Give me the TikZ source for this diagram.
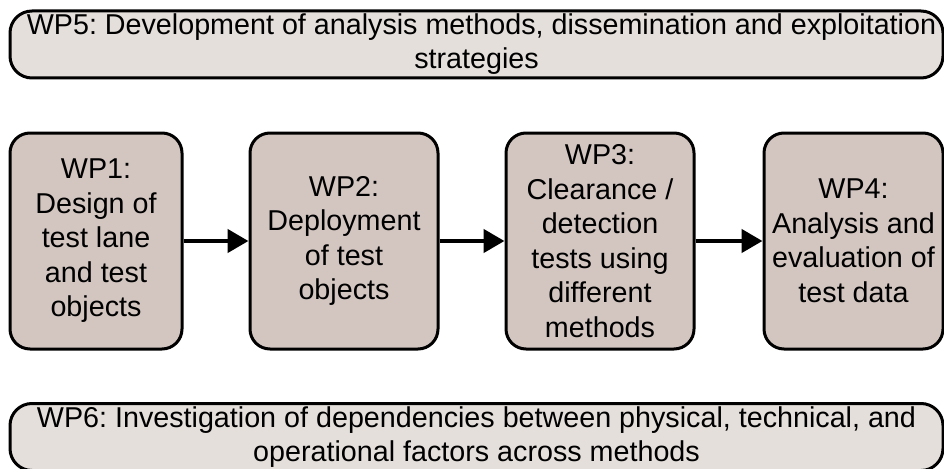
\documentclass[tikz,border=0pt]{standalone}
\usepackage{fontspec}
\setmainfont{Liberation Sans}
\usetikzlibrary{arrows.meta}
\definecolor{wpfill}{RGB}{211,198,193}
\definecolor{bandfill}{RGB}{228,223,219}
\frenchspacing
\begin{document}
\begin{tikzpicture}[x=1pt,y=-1pt,
  wpbox/.style={draw=black,line width=3pt,rounded corners=20pt,fill=wpfill,
    inner sep=0pt,align=center,minimum height=216pt,
    font=\fontsize{28.7}{34.5}\selectfont},
  band/.style={draw=black,line width=3pt,rounded corners=22pt,fill=bandfill,
    inner sep=0pt,align=center,minimum width=933pt,minimum height=67pt,
    font=\fontsize{28.7}{34}\selectfont},
  flow/.style={line width=4.5pt,-{Triangle[length=21pt,width=23pt]}}]
\useasboundingbox (0,0) rectangle (944,468);
\node[band] (wp5) at (476.5,44.5) {\hspace*{10pt}WP5: Development of analysis methods, dissemination and exploitation\\strategies};
\node[wpbox,minimum width=172pt] (wp1) at (96,241) {WP1:\\Design of\\test lane\\and test\\objects};
\node[wpbox,minimum width=188pt] (wp2) at (344,241) {WP2:\\Deployment\\of test\\objects};
\node[wpbox,minimum width=188pt] (wp3) at (600,241) {WP3:\\Clearance /\\detection\\tests using\\different\\methods};
\node[wpbox,minimum width=179pt] (wp4) at (853.5,241) {WP4:\\Analysis and\\evaluation of\\test data};
\node[band] (wp6) at (476.5,437) {WP6: Investigation of dependencies between physical, technical, and\\operational factors across methods};
\draw[flow] (wp1) -- (wp2);
\draw[flow] (wp2) -- (wp3);
\draw[flow] (wp3) -- (wp4);
\end{tikzpicture}
\end{document}
